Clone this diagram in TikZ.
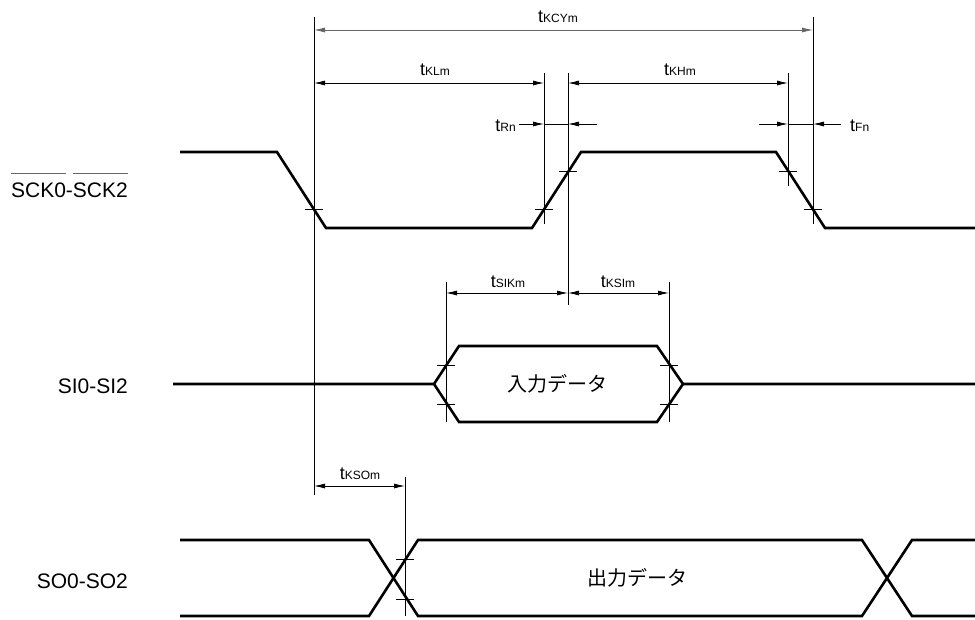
\documentclass[tikz,border=0pt]{standalone}
\usepackage{fontspec}
\setmainfont{Liberation Sans}
\newfontfamily\jpfont{Noto Sans CJK JP}
\usetikzlibrary{arrows.meta}
\newcommand{\tlabel}[1]{{\fontsize{18}{18}\selectfont t}{\fontsize{12}{12}\selectfont #1}}
\newcommand{\sigbar}[1]{\setbox0\hbox{#1}\rlap{\color{black!60}\rule[23pt]{\wd0}{0.9pt}}\box0}

\begin{document}
\begin{tikzpicture}[x=1pt,y=-1pt,
    wave/.style={line width=2.6pt},
    guide/.style={line width=0.8pt},
    dimline/.style={line width=0.8pt,{Latex[length=11pt,width=5pt]}-{Latex[length=11pt,width=5pt]}},
    tip/.style={line width=0.8pt,-{Latex[length=11pt,width=5pt]}},
    sig/.style={font=\fontsize{21}{21}\selectfont,anchor=base east,inner sep=0pt},
    tlab/.style={anchor=base,inner sep=0pt},
    data/.style={font=\jpfont\fontsize{20}{20}\selectfont,inner sep=0pt}]
\useasboundingbox (0,0) rectangle (975,619);

% 信号名
\node[sig] (sck) at (128,197) {\sigbar{SCK0}-\sigbar{SCK2}};
\node[sig] (si) at (128,393) {SI0-SI2};
\node[sig] (so) at (128,588) {SO0-SO2};

% SCK 波形
\draw[wave] (180,152) -- (277,152) -- (326,228) -- (532,228) -- (581,152) -- (776,152) -- (825,228) -- (975,228);

% SI 波形
\draw[wave] (173,384) -- (434,384) -- (459,346) -- (657,346) -- (683,384) -- (975,384);
\draw[wave] (434,384) -- (459,422) -- (657,422) -- (683,384);

% SO 波形
\draw[wave] (180,540) -- (369,540) -- (418,616) -- (862,616) -- (912,540) -- (975,540);
\draw[wave] (180,616) -- (369,616) -- (418,540) -- (862,540) -- (912,616) -- (975,616);

% 参考线
\draw[guide] (314,17) -- (314,495);
\draw[guide] (544,73) -- (544,224);
\draw[guide] (568,73) -- (568,305);
\draw[guide] (788,73) -- (788,186);
\draw[guide] (813,17) -- (813,224);
\draw[guide] (446,282) -- (446,422);
\draw[guide] (669,282) -- (669,422);
\draw[guide] (405,477) -- (405,616);

% 刻度
\draw[guide] (305,209) -- (323,209);
\draw[guide] (535,209) -- (553,209);
\draw[guide] (559,171) -- (577,171);
\draw[guide] (779,171) -- (797,171);
\draw[guide] (804,209) -- (822,209);
\draw[guide] (437,365) -- (455,365);
\draw[guide] (437,404) -- (455,404);
\draw[guide] (660,365) -- (678,365);
\draw[guide] (660,404) -- (678,404);
\draw[guide] (396,559) -- (414,559);
\draw[guide] (396,599) -- (414,599);

% 时间标注
\draw[dimline,black!60] (314,30) -- (813,30);
\node[tlab] (tkcy) at (558,22) {\tlabel{KCYm}};
\draw[dimline] (314,83) -- (544,83);
\node[tlab] (tkl) at (435,75) {\tlabel{KLm}};
\draw[dimline] (568,83) -- (788,83);
\node[tlab] (tkh) at (680,75) {\tlabel{KHm}};
\draw[tip] (519,124) -- (544,124);
\draw[guide] (544,124) -- (568,124);
\draw[tip] (597,124) -- (568,124);
\node[tlab,anchor=base east] (tr) at (516,131) {\tlabel{Rn}};
\draw[tip] (759,124) -- (788,124);
\draw[guide] (788,124) -- (813,124);
\draw[tip] (841,124) -- (813,124);
\node[tlab,anchor=base west] (tf) at (850,131) {\tlabel{Fn}};
\draw[dimline] (446,293) -- (568,293);
\node[tlab] (tsik) at (508,287) {\tlabel{SIKm}};
\draw[dimline] (568,293) -- (669,293);
\node[tlab] (tksi) at (618,287) {\tlabel{KSIm}};
\draw[dimline] (314,486) -- (405,486);
\node[tlab] (tkso) at (360,479) {\tlabel{KSOm}};

% 数据
\node[data] (din) at (557,384) {入力データ};
\node[data] (dout) at (637,578) {出力データ};
\end{tikzpicture}
\end{document}
